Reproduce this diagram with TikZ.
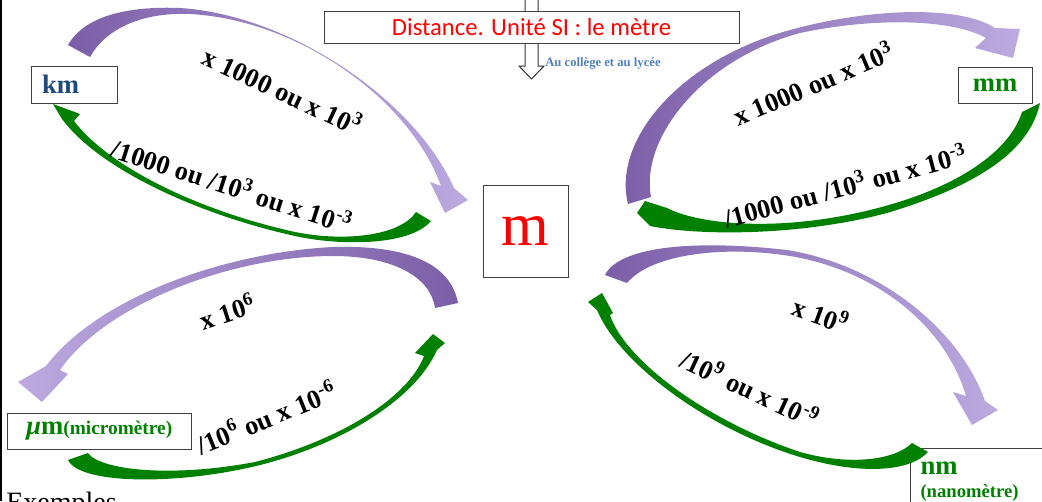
\documentclass[tikz,border=0pt]{standalone}
\usepackage{fontspec}
\setmainfont{Liberation Serif}
\newfontfamily\titlefont{Carlito}
\usepackage{tikz}
\definecolor{kmblue}{HTML}{1F497D}
\definecolor{siblue}{HTML}{4F81BD}
\definecolor{convgreen}{HTML}{008000}
\definecolor{purpleDark}{HTML}{7B5EA7}
\definecolor{purpleLight}{HTML}{BCAAE0}

\begin{document}
\begin{tikzpicture}[
  x=0.75pt,y=-0.75pt,
  unitbox/.style={draw=black!75,line width=0.75pt,fill=white,inner sep=0pt},
  unitname/.style={font=\bfseries\fontsize{20}{20}\selectfont},
  conv/.style={font=\bfseries\fontsize{20}{20}\selectfont,inner sep=0pt},
  pupright/.style={left color=purpleDark,right color=purpleLight},
  pupleft/.style={left color=purpleLight,right color=purpleDark},
  greenarrow/.style={fill=convgreen}
]
\useasboundingbox (0,0) rectangle (1042,501);
\clip (0,0) rectangle (1042,501);

% margin rule
\draw[line width=1.5pt] (1,0) -- (1,501);

% down arrow behind the title
\draw[fill=white,line width=0.75pt,draw=black!80] (525,-5) -- (525,66) -- (519,66) -- (531.5,79) -- (544,66) -- (538,66) -- (538,-5);

\node[unitbox,minimum width=311.25pt,minimum height=24pt,text=red,font=\titlefont\fontsize{18.5}{18.5}\selectfont] (title) at (531.5,27) {Distance. Unité SI : le mètre};
\node[anchor=west,inner sep=0pt,text=siblue,font=\bfseries\fontsize{9.5}{9.5}\selectfont] (level) at (545,63) {Au collège et au lycée};

% units
\node[unitbox,minimum width=63.75pt,minimum height=69pt,text=red,font=\fontsize{46}{46}\selectfont] (metre) at (525.5,231) {m};
\node[unitbox,unitname,minimum height=27.75pt,text width=48pt,align=left,inner xsep=8.25pt,text=kmblue] (km) at (74,84.5) {km};
\node[unitbox,unitname,minimum width=55.5pt,minimum height=27pt,text=convgreen] (mm) at (995,85) {mm};
\node[unitbox,minimum width=138pt,minimum height=27pt,text=convgreen] (um) at (99,431) {{\bfseries\fontsize{20}{20}\selectfont\itshape µ\upshape m}{\bfseries\fontsize{14.5}{14.5}\selectfont(micromètre)}};
\node[unitbox,anchor=north west,text width=100pt,align=left,inner xsep=7.5pt,inner ysep=4pt,text height=15.5pt,text depth=45pt,text=convgreen,font=\bfseries] (nm) at (910,448) {{\fontsize{20}{20}\selectfont nm}\\[5pt]{\fontsize{14}{14}\selectfont(nanomètre)}};

\node[anchor=base west,inner sep=0pt,font=\fontsize{21}{21}\selectfont] (examples) at (6,511) {Exemples};

% km <-> m
\shade[pupright] (68,45) .. controls (85,15) and (130,6) .. (180,8) .. controls (290,15) and (415,100) .. (454,188) -- (468,200) -- (445,213) -- (430,182) -- (441,186) .. controls (410,100) and (300,20) .. (190,14) .. controls (140,12) and (105,30) .. (90,57) -- cycle;
\fill[greenarrow] (431,221) .. controls (410,246) and (340,246) .. (295,236) .. controls (200,215) and (100,170) .. (62,119) -- (53,104) -- (80,114) -- (74,121) .. controls (110,168) and (200,211) .. (295,232) .. controls (345,242) and (400,236) .. (416,212) -- cycle;

% m <-> mm
\shade[pupright] (628,204) .. controls (612,140) and (680,60) .. (790,30) .. controls (870,8) and (960,5) .. (995,28) -- (1020,29) -- (1013,58) -- (975,48) -- (986,38) .. controls (950,18) and (870,18) .. (800,33) .. controls (700,60) and (640,140) .. (651,197) -- cycle;
\fill[greenarrow] (1040,103) .. controls (1030,150) and (980,185) .. (887,213) .. controls (800,236) and (700,236) .. (650,226) -- (637,213) -- (645,201) -- (667,208) .. controls (700,225) and (780,232) .. (870,210) .. controls (960,188) and (1010,150) .. (1022,112) -- cycle;

% m <-> um
\shade[pupleft] (458,303) .. controls (450,260) and (400,245) .. (333,247) .. controls (230,252) and (100,295) .. (46,366) -- (18,382) -- (42,402) -- (68,374) -- (60,370) .. controls (105,305) and (230,256) .. (333,256) .. controls (390,256) and (430,275) .. (435,308) -- cycle;
\fill[greenarrow] (68,460) .. controls (80,485) and (180,485) .. (260,465) .. controls (340,445) and (415,400) .. (437,350) -- (445,343) -- (433,334) -- (415,353) -- (424,356) .. controls (408,398) and (340,440) .. (255,462) .. controls (170,478) and (100,470) .. (88,453) -- cycle;

% m <-> nm
\shade[pupright] (605,275) .. controls (620,245) and (700,240) .. (787,250) .. controls (880,265) and (960,330) .. (985,401) -- (998,410) -- (972,425) -- (953,392) -- (966,396) .. controls (945,325) and (875,270) .. (790,256) .. controls (720,245) and (650,255) .. (627,283) -- cycle;
\fill[greenarrow] (928,452) .. controls (910,472) and (860,475) .. (800,457) .. controls (710,430) and (620,365) .. (597,310) -- (588,302) -- (602,293) -- (613,313) -- (610,315) .. controls (625,360) and (705,420) .. (800,452) .. controls (850,466) and (895,460) .. (912,443) -- cycle;

% conversion labels
\node[conv,rotate=-25] (kmtom) at (283,90) {x 1000 ou x 10\textsuperscript{3}};
\node[conv,rotate=-18] (mtokm) at (232,185) {/1000 ou /10\textsuperscript{3} ou x 10\textsuperscript{-3}};
\node[conv,rotate=23] (mtomm) at (813,83) {x 1000 ou x 10\textsuperscript{3}};
\node[conv,rotate=15] (mmtom) at (845,185) {/1000 ou /10\textsuperscript{3} ou x 10\textsuperscript{-3}};
\node[conv,rotate=18] (mtoum) at (227,311) {x 10\textsuperscript{6}};
\node[conv,rotate=22] (umtom) at (266,417) {/10\textsuperscript{6} ou x 10\textsuperscript{-6}};
\node[conv,rotate=-20] (mtonm) at (821,314) {x 10\textsuperscript{9}};
\node[conv,rotate=-25] (nmtom) at (750,388) {/10\textsuperscript{9} ou x 10\textsuperscript{-9}};
\end{tikzpicture}
\end{document}
